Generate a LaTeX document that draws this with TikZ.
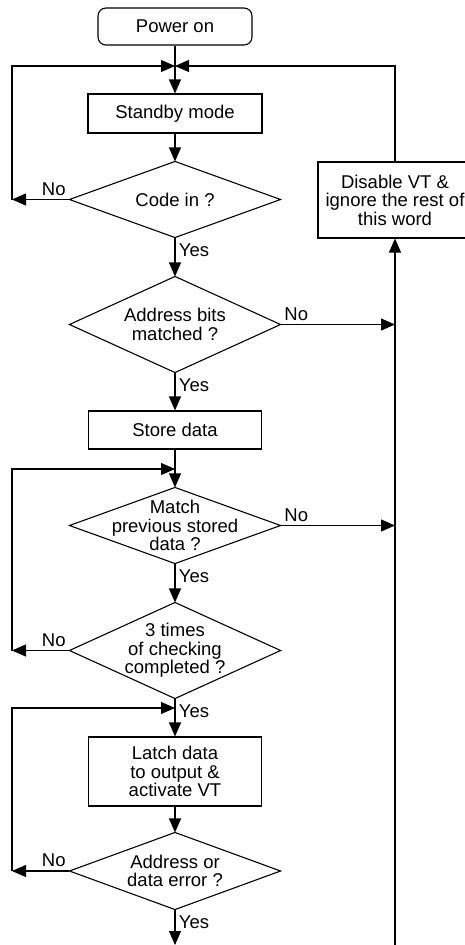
\documentclass[tikz,border=0pt]{standalone}
\usepackage{fontspec}
\setmainfont{Liberation Sans}
\usetikzlibrary{arrows.meta}

\begin{document}
\begin{tikzpicture}
[
    x=1pt, y=-1pt,
    line width=1.1pt,
    every node/.style={font=\fontsize{18.5}{18.5}\selectfont, align=center},
    arr/.style={-{Triangle[length=14pt, width=12pt]}},
    process/.style={draw, rectangle, minimum width=173pt, inner sep=0pt},
    decision/.style={rectangle, minimum width=210pt, inner sep=0pt},
    yes/.style={below right, pos=0, yshift=-2pt},
    noleft/.style={above left, pos=0},
    noright/.style={above right, pos=0},
]
\useasboundingbox (0,0) rectangle (464,945);
\node [process, rounded corners=8pt, minimum width=154pt, minimum height=37pt] (power) at (175,26.5) {Power on};
\node [process, minimum width=174pt, minimum height=39pt] (standby) at (175,113.5) {Standby mode};
\node [decision, minimum height=75pt] (codein) at (175,199.5) {Code in ?};
\node [decision, minimum height=95pt] (addr) at (175,324.5) {Address bits\\matched ?};
\node [process, minimum height=38pt] (store) at (175,430) {Store data};
\node [decision, minimum height=75pt] (match) at (175,525.5) {Match\\previous stored\\data ?};
\node [decision, minimum height=95pt] (times) at (175,650.5) {3 times\\of checking\\completed ?};
\node [process, minimum height=69pt] (latch) at (175,771.5) {Latch data\\to output \&\\activate VT};
\node [decision, minimum height=76pt] (err) at (175,871) {Address or\\data error ?};
\node [process, minimum width=154pt, minimum height=76pt] (disable) at (395,200) {Disable VT \&\\ignore the rest of\\this word};

\foreach \d in {codein,addr,match,times,err}
    \draw (\d.north) -- (\d.east) -- (\d.south) -- (\d.west) -- cycle;

\coordinate (j1) at (175,66);
\coordinate (j2) at (175,469);
\coordinate (j3) at (175,708);
\coordinate (no1) at (12,199.5);
\coordinate (no2) at (12,650.5);
\coordinate (no3) at (12,871);
\coordinate (no4) at (395,324.5);
\coordinate (no5) at (395,525.5);
\coordinate (up) at (395,945);
\coordinate (out) at (175,945);

\draw (power) -- (j1);
\draw [arr] (j1) -- (standby);
\draw [arr] (standby) -- (codein);
\draw [arr] (codein) -- node[noleft]{No} (no1);
\draw [arr] (no1) |- (j1);
\draw [arr] (disable) |- (j1);
\draw [arr] (codein) -- node[yes]{Yes} (addr);
\draw [arr] (addr) -- node[noright]{No} (no4);
\draw [arr] (addr) -- node[yes]{Yes} (store);
\draw (store) -- (j2);
\draw [arr] (j2) -- (match);
\draw [arr] (match) -- node[noright]{No} (no5);
\draw [arr] (match) -- node[yes]{Yes} (times);
\draw [arr] (times) -- node[noleft]{No} (no2);
\draw [arr] (no2) |- (j2);
\draw (times) -- node[yes]{Yes} (j3);
\draw [arr] (j3) -- (latch);
\draw [arr] (latch) -- (err);
\draw [arr] (err) -- node[noleft]{No} (no3);
\draw [arr] (no3) |- (j3);
\draw [arr] (err) -- node[yes]{Yes} (out);
\draw [arr] (up) -- (disable);
\end{tikzpicture}
\end{document}
